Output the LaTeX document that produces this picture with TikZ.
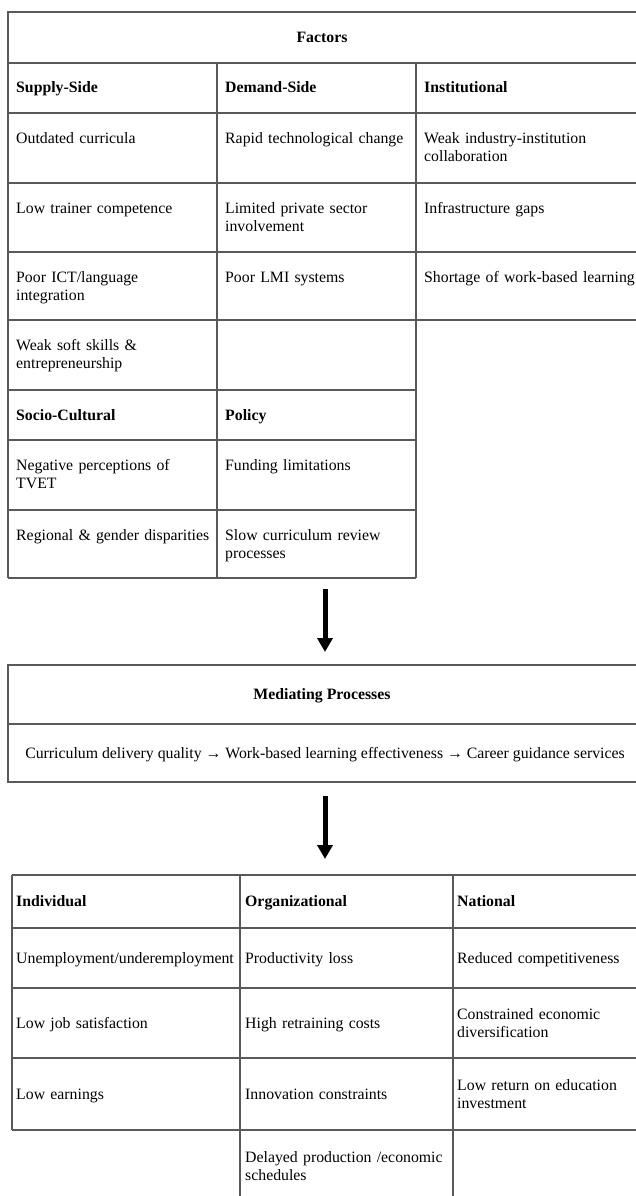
\documentclass[tikz,border=0pt]{standalone}
\usepackage{fontspec}
\setmainfont{Liberation Serif}
\usetikzlibrary{arrows.meta}

\tikzset{
  tabline/.style={line width=1.2pt,draw=black!65},
  cell/.style={anchor=base west,inner sep=0pt,text width=205pt,align=left,
    font=\fontsize{15.8}{18}\selectfont},
  title/.style={anchor=base,inner sep=0pt,font=\fontsize{15.8}{18}\selectfont\bfseries},
  bigarrow/.style={line width=5pt,-{Triangle[width=15pt,length=14pt]}}
}

\begin{document}
\begin{tikzpicture}[x=1pt,y=-1pt]
    \useasboundingbox (0,0) rectangle (636,1196);

    % Factors
    \draw[tabline] (8,12) rectangle (640,63);
    \node[title] (factors) at (322,43) {Factors};
    \foreach \y in {113,183,252,320}{
      \draw[tabline] (8,\y) -- (640,\y);
    }
    \foreach \y in {390,440,510,578}{
      \draw[tabline] (8,\y) -- (416,\y);
    }
    \draw[tabline] (8,63) -- (8,578);
    \draw[tabline] (217,63) -- (217,578);
    \draw[tabline] (416,63) -- (416,578);

    \foreach \y\t [count=\i] in {
        63/{\textbf{Supply-Side}},
        113/{Outdated curricula},
        183/{Low trainer competence},
        252/{Poor ICT/language\\integration},
        320/{Weak soft skills \&\\entrepreneurship},
        390/{\textbf{Socio-Cultural}},
        440/{Negative perceptions of\\TVET},
        510/{Regional \& gender disparities}}{
      \node[cell] (sup\i) at (16,{\y+30}) {\t};
    }
    \foreach \y\t [count=\i] in {
        63/{\textbf{Demand-Side}},
        113/{Rapid technological change},
        183/{Limited private sector\\involvement},
        252/{Poor LMI systems},
        390/{\textbf{Policy}},
        440/{Funding limitations},
        510/{Slow curriculum review\\processes}}{
      \node[cell] (dem\i) at (225,{\y+30}) {\t};
    }
    \foreach \y\t [count=\i] in {
        63/{\textbf{Institutional}},
        113/{Weak industry-institution\\collaboration},
        183/{Infrastructure gaps},
        252/{Shortage of work-based learning}}{
      \node[cell,text width=215pt] (ins\i) at (424,{\y+30}) {\t};
    }

    \coordinate (arrAtop) at (325,589);
    \coordinate (arrAend) at (325,652);
    \draw[bigarrow] (arrAtop) -- (arrAend);

    % Mediating Processes
    \draw[tabline] (8,665) rectangle (640,782);
    \draw[tabline] (8,724) -- (640,724);
    \node[title] (medtitle) at (322,699) {Mediating Processes};
    \node[title,font=\fontsize{15.8}{18}\selectfont] (medchain) at (325,758)
      {Curriculum delivery quality → Work-based learning effectiveness → Career guidance services};

    \coordinate (arrBtop) at (325,796);
    \coordinate (arrBend) at (325,859);
    \draw[bigarrow] (arrBtop) -- (arrBend);

    % Outcomes
    \foreach \y in {875,928,988,1058,1130}{
      \draw[tabline] (12,\y) -- (640,\y);
    }
    \draw[tabline] (12,875) -- (12,1130);
    \draw[tabline] (240,875) -- (240,1200);
    \draw[tabline] (453,875) -- (453,1200);

    \foreach \y\t [count=\i] in {
        906/{\textbf{Individual}},
        963/{Unemployment/underemployment},
        1028/{Low job satisfaction},
        1099/{Low earnings}}{
      \node[cell,text width=226pt] (ind\i) at (16,\y) {\t};
    }
    \foreach \y\t [count=\i] in {
        906/{\textbf{Organizational}},
        963/{Productivity loss},
        1028/{High retraining costs},
        1099/{Innovation constraints},
        1162/{Delayed production /economic\\schedules}}{
      \node[cell] (org\i) at (245,\y) {\t};
    }
    \foreach \y\t [count=\i] in {
        906/{\textbf{National}},
        963/{Reduced competitiveness},
        1019/{Constrained economic\\diversification},
        1090/{Low return on education\\investment}}{
      \node[cell,text width=180pt] (nat\i) at (457,\y) {\t};
    }

  \end{tikzpicture}
\end{document}
